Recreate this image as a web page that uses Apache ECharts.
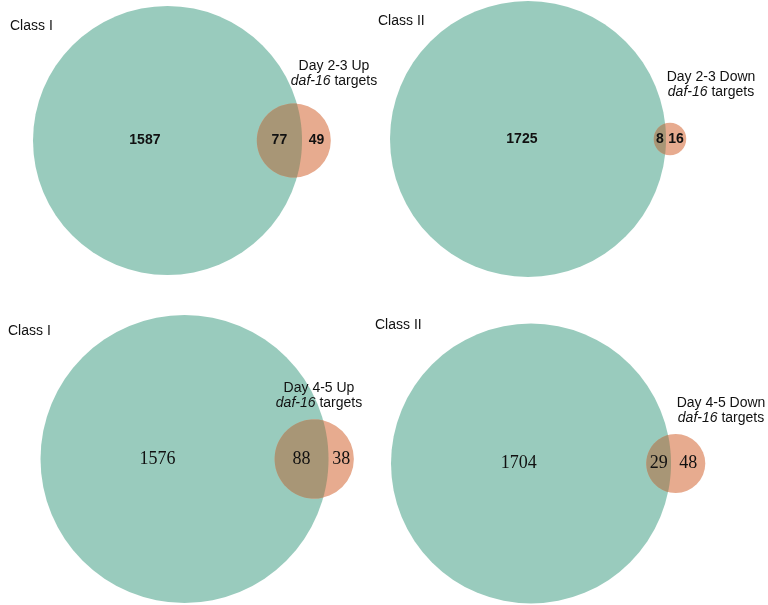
<!DOCTYPE html>
<html>
<head>
<meta charset="utf-8">
<script src="https://cdn.jsdelivr.net/npm/echarts@6/dist/echarts.min.js"></script>
<style>
  html, body { margin: 0; padding: 0; background: #fff; }
  #venn { width: 768px; height: 605px; }
</style>
</head>
<body>
<div id="venn"></div>
<script>
// gene counts per panel: Class I/II genes vs daf-16 target sets
var classNames = ["Class I", "Class II", "Class I", "Class II"];
var targetNames = ["Day 2-3 Up", "Day 2-3 Down", "Day 4-5 Up", "Day 4-5 Down"];
var classOnly = [1587, 1725, 1576, 1704];
var overlap = [77, 8, 88, 29];
var targetOnly = [49, 16, 38, 48];

// page layout (pixels) for each panel
var panels = [
  { cx: 167.5, cy: 140.5, bigR: 134.5, classXY: [10, 26], labelXY: [334, 59], numFont: "bold 14px 'Liberation Sans', Arial, sans-serif" },
  { cx: 528, cy: 139, bigR: 138, classXY: [378, 21], labelXY: [711, 70], numFont: "bold 14px 'Liberation Sans', Arial, sans-serif" },
  { cx: 184.5, cy: 459, bigR: 144, classXY: [8, 331], labelXY: [319, 381], numFont: "18px 'Liberation Serif', 'Times New Roman', serif" },
  { cx: 531, cy: 463.5, bigR: 140, classXY: [375, 325], labelXY: [721, 396], numFont: "18px 'Liberation Serif', 'Times New Roman', serif" }
];
var W = 768, H = 605;
var teal = "#99CBBD", salmon = "#E7AB8F", mixed = "#A89676";
var sansFont = "'Liberation Sans', Arial, sans-serif";

// area of the lens between two circles at distance d
function lensArea(r1, r2, d) {
  if (d >= r1 + r2) return 0;
  if (d <= Math.abs(r1 - r2)) return Math.PI * Math.min(r1, r2) * Math.min(r1, r2);
  var a1 = Math.acos((d * d + r1 * r1 - r2 * r2) / (2 * d * r1));
  var a2 = Math.acos((d * d + r2 * r2 - r1 * r1) / (2 * d * r2));
  var k = Math.sqrt((-d + r1 + r2) * (d + r1 - r2) * (d - r1 + r2) * (d + r1 + r2));
  return r1 * r1 * a1 + r2 * r2 * a2 - 0.5 * k;
}
function solveDist(r1, r2, area) {
  var lo = Math.abs(r1 - r2), hi = r1 + r2;
  for (var n = 0; n < 80; n++) {
    var mid = (lo + hi) / 2;
    if (lensArea(r1, r2, mid) > area) lo = mid; else hi = mid;
  }
  return (lo + hi) / 2;
}

var geo = classOnly.map(function (c, i) {
  var r1 = Math.sqrt((c + overlap[i]) / Math.PI);
  var r2 = Math.sqrt((targetOnly[i] + overlap[i]) / Math.PI);
  var d = solveDist(r1, r2, overlap[i]);
  return { r1: r1, r2: r2, d: d };
});

function makeRender(i) {
  return function (params, api) {
    var g = geo[i];
    var r1 = g.r1, r2 = g.r2, d = g.d;
    var c1 = api.coord([0, 0]);
    var c2 = api.coord([d, 0]);
    var R1 = api.size([r1, 0])[0];
    var R2 = api.size([r2, 0])[0];
    // lens outline
    var a = (d * d + r1 * r1 - r2 * r2) / (2 * d);
    var h = Math.sqrt(Math.max(r1 * r1 - a * a, 0));
    var t1 = Math.atan2(h, a);
    var t2 = Math.atan2(h, a - d);
    var pts = [], n, t, steps = 60;
    for (n = 0; n <= steps; n++) {
      t = -t1 + (2 * t1) * n / steps;
      pts.push(api.coord([r1 * Math.cos(t), r1 * Math.sin(t)]));
    }
    for (n = 0; n <= steps; n++) {
      t = t2 + (2 * Math.PI - 2 * t2) * n / steps;
      pts.push(api.coord([d + r2 * Math.cos(t), r2 * Math.sin(t)]));
    }
    var font = panels[i].numFont;
    function txt(v, x) {
      var p = api.coord([x, 0]);
      return { type: "text", z2: 10, style: { text: String(v), x: p[0], y: p[1], font: font, fill: "#111", align: "center", verticalAlign: "middle" } };
    }
    return {
      type: "group",
      children: [
        { type: "circle", shape: { cx: c1[0], cy: c1[1], r: R1 }, style: { fill: teal } },
        { type: "circle", shape: { cx: c2[0], cy: c2[1], r: R2 }, style: { fill: salmon } },
        { type: "polygon", shape: { points: pts }, style: { fill: mixed } },
        txt(classOnly[i], (-r1 + d - r2) / 2),
        txt(overlap[i], (d - r2 + r1) / 2),
        txt(targetOnly[i], (r1 + d + r2) / 2)
      ]
    };
  };
}

var grids = [], xAxes = [], yAxes = [], series = [], graphics = [];
panels.forEach(function (p, i) {
  var s = p.bigR / geo[i].r1;
  grids.push({ left: 0, top: 0, width: W, height: H });
  xAxes.push({ type: "value", gridIndex: i, show: false, min: -p.cx / s, max: (W - p.cx) / s });
  yAxes.push({ type: "value", gridIndex: i, show: false, min: (p.cy - H) / s, max: p.cy / s });
  series.push({
    type: "custom",
    xAxisIndex: i,
    yAxisIndex: i,
    silent: true,
    data: [[0, 0]],
    renderItem: makeRender(i)
  });
  graphics.push({
    type: "text",
    z: 20,
    x: p.classXY[0],
    y: p.classXY[1],
    style: { text: classNames[i], font: "14px " + sansFont, fill: "#111", align: "left", verticalAlign: "middle" }
  });
  graphics.push({
    type: "text",
    z: 20,
    x: p.labelXY[0],
    y: p.labelXY[1],
    style: {
      text: "{n|" + targetNames[i] + "}\n{it|daf-16}{n| targets}",
      align: "center",
      verticalAlign: "top",
      fill: "#111",
      rich: {
        n: { fontSize: 14, fontFamily: sansFont, lineHeight: 15, fill: "#111" },
        it: { fontSize: 14, fontFamily: sansFont, fontStyle: "italic", lineHeight: 15, fill: "#111" }
      }
    }
  });
});

var myChart = echarts.init(document.getElementById("venn"));
myChart.setOption({
  animation: false,
  backgroundColor: "#fff",
  grid: grids,
  xAxis: xAxes,
  yAxis: yAxes,
  series: series,
  graphic: graphics
});
</script>
</body>
</html>
